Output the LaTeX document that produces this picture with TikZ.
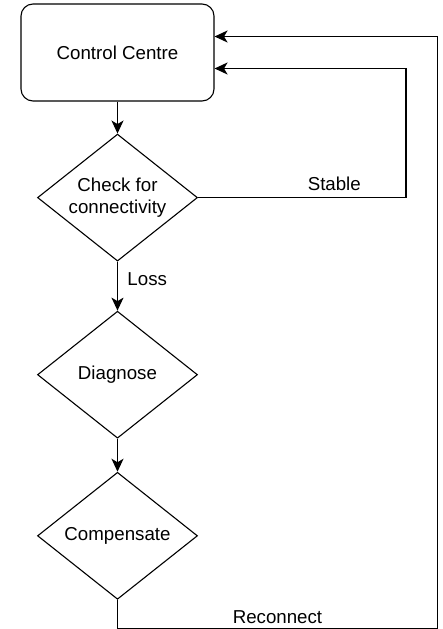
\documentclass[tikz,border=0pt]{standalone}
\usepackage{fontspec}
\setmainfont{Liberation Sans}
\usetikzlibrary{shapes.geometric,arrows.meta,positioning}

\tikzset{
 ctrlbox/.style={draw,rounded corners=12pt,minimum width=193pt,minimum height=97pt,line width=1.1pt},
 decision/.style={draw,diamond,minimum width=160pt,minimum height=127pt,inner sep=0pt,aspect=1.26,align=center,line width=1.1pt},
 flow/.style={line width=1.3pt}
}

\begin{document}
\begin{tikzpicture}[x=1pt,y=-1pt,node distance=32pt,auto,font=\fontsize{18.7}{22}\selectfont,
 >={Stealth[length=13pt,width=12pt,inset=3.5pt]}]
 \useasboundingbox (0,0) rectangle (442,629);
 \node[ctrlbox] (ctrl) at (117.5,52.5) {Control Centre};
 \node[decision] (check)[below=of ctrl] {Check for\\connectivity};
 \node[decision] (diag)[below=49pt of check] {Diagnose};
 \node[decision] (comp)[below=33pt of diag] {Compensate};
 \path[->,flow]
 (ctrl) edge (check)
 (check) edge node[right,pos=0.35,xshift=6pt] {Loss} (diag)
 (diag) edge (comp);

 % loop backs to the control centre
 \draw[->,flow] (check.east) -- node[above,pos=0.655,yshift=3pt] {Stable} ++(208,0) |- ([yshift=-16pt]ctrl.east);
 \draw[->,flow] (comp.south) -- ++(0,28.5) -- node[above,yshift=1pt] {Reconnect} ++(320,0) |- ([yshift=16pt]ctrl.east);
\end{tikzpicture}
\end{document}
